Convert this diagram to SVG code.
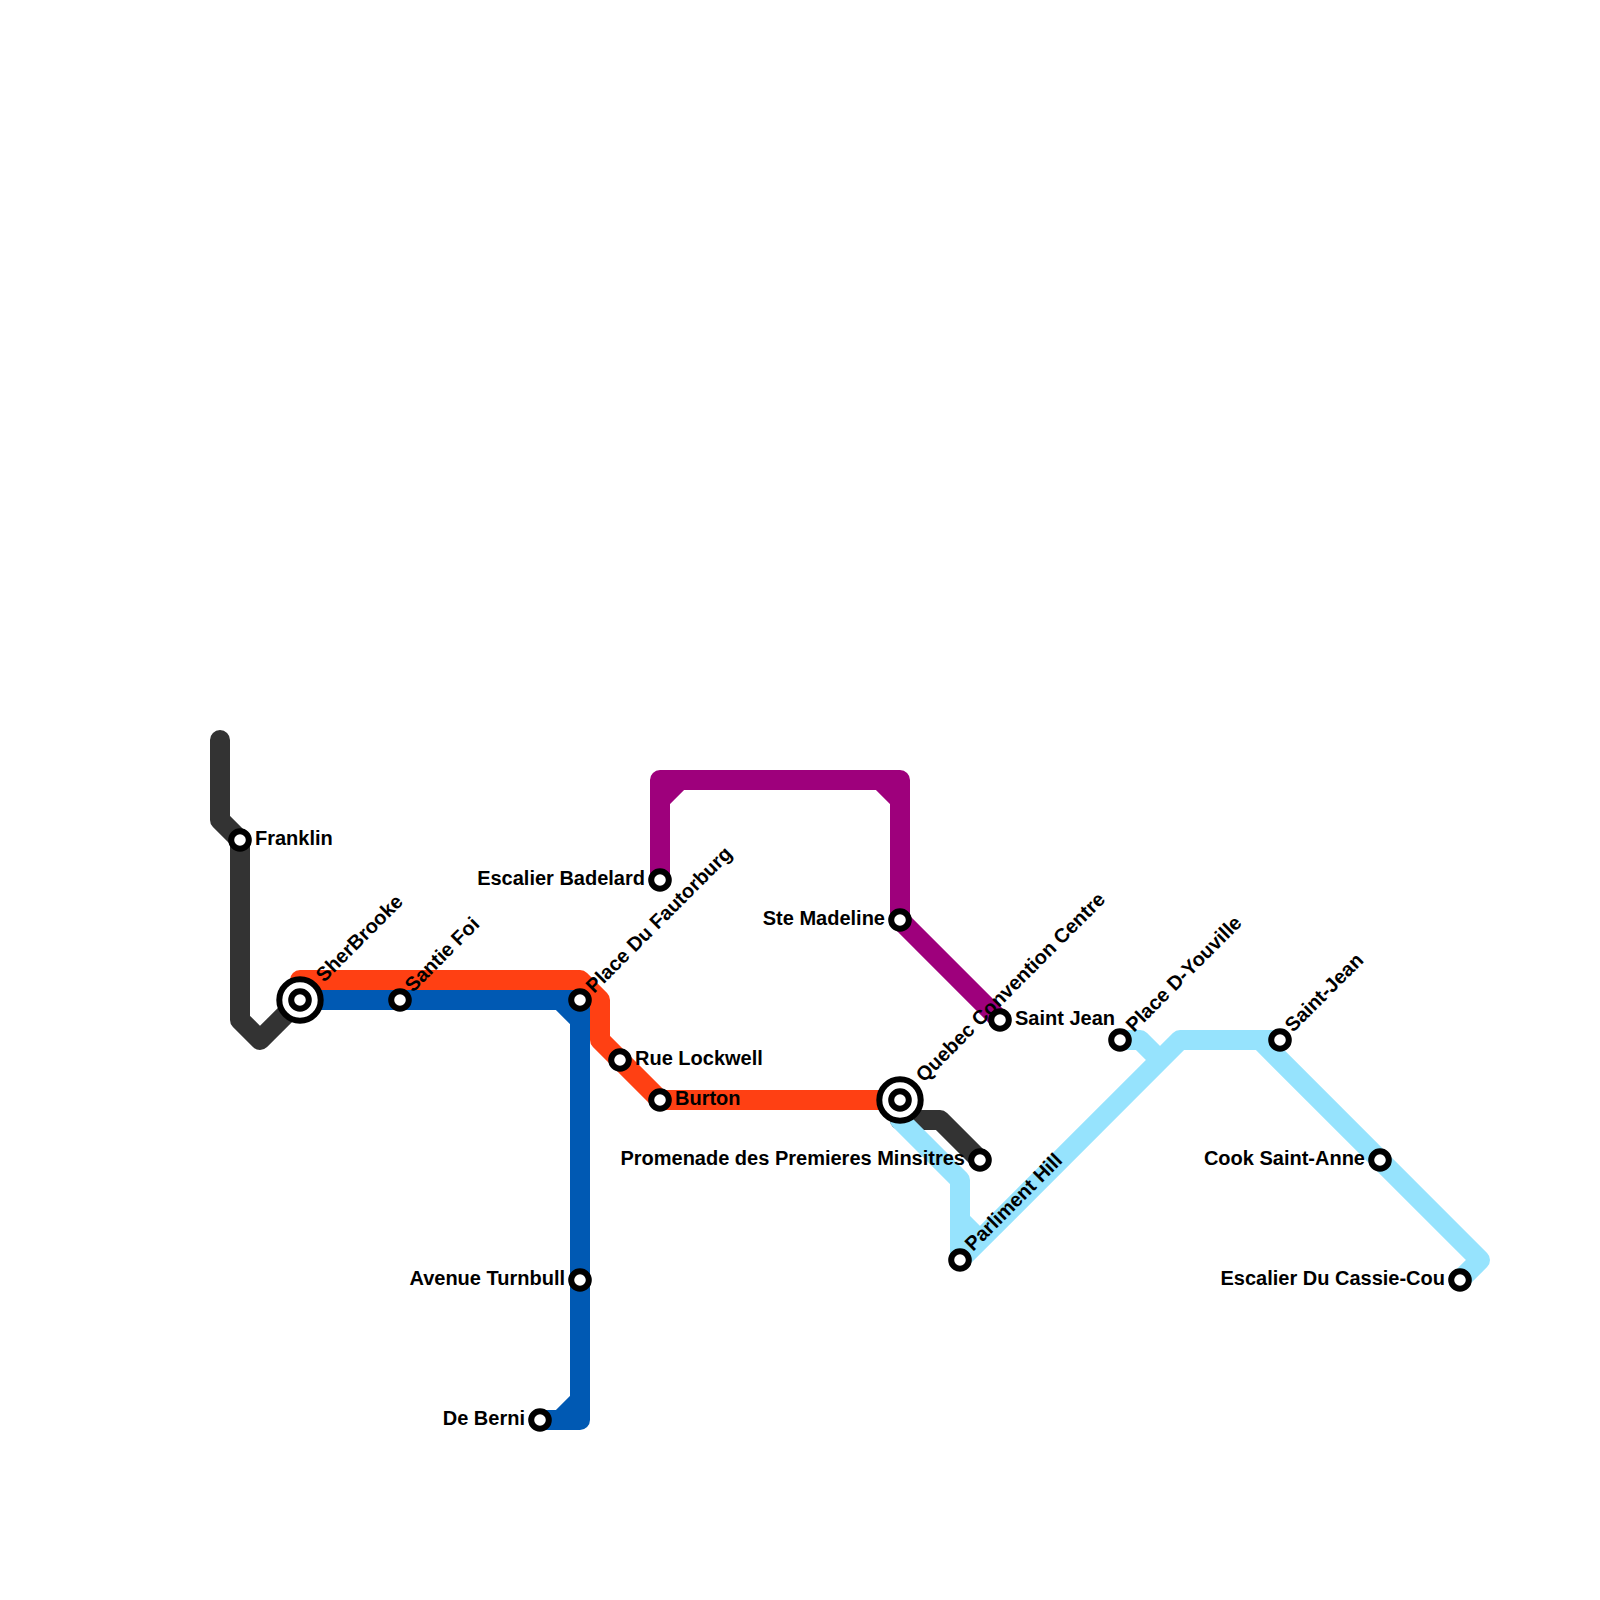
<svg xmlns="http://www.w3.org/2000/svg" width="1600" height="1600" viewBox="0 0 1600 1600">
<style>
.l{fill:none;stroke-width:20;stroke-linejoin:round;stroke-linecap:round}
.b{stroke:#333333}.o{stroke:#ff4013}.u{stroke:#0059b3}.p{stroke:#9e007c}.c{stroke:#96e3fd}
.s{fill:#fff;stroke:#000;stroke-width:6}
.x{fill:#fff;stroke:#000;stroke-width:6}
text{font-family:"Liberation Sans",Arial,sans-serif;font-weight:700;font-size:20px;fill:#000}
.e{text-anchor:end}
</style>
<rect width="1600" height="1600" fill="#fff"/>
<g id="connectors">
<path class="l b" d="M220 740V820L240 840V1020L260 1040L300 1000"/>
<path class="l b" d="M900 1120H940L980 1160"/>
<path class="l o" d="M300 1000V980H580L600 1000V1040L660 1100H900"/>
<path class="l u" d="M300 1000H580V1420H540M560 1000L580 1020M580 1400L560 1420"/>
<path class="l p" d="M660 880V780H900V920L1000 1020M660 800L680 780M880 780L900 800"/>
<path class="l c" d="M900 1120L960 1180V1260L1180 1040H1280M960 1220L980 1240M1120 1040H1140L1160 1060M1260 1040L1480 1260L1460 1280"/>
</g>
<g id="sherbrooke"><circle class="x" cx="300" cy="1000" r="20.7"/><circle class="s" cx="300" cy="1000" r="8.8"/><text transform="translate(324 983) rotate(-45)">SherBrooke</text></g>
<g id="quebec"><circle class="x" cx="900" cy="1100" r="20.7"/><circle class="s" cx="900" cy="1100" r="8.8"/><text transform="translate(924 1083) rotate(-45)">Quebec Convention Centre</text></g>
<g id="franklin"><circle class="s" cx="240" cy="840" r="8.8"/><text x="255" y="845">Franklin</text></g>
<g id="santie"><circle class="s" cx="400" cy="1000" r="8.8"/><text transform="translate(413 993) rotate(-45)">Santie Foi</text></g>
<g id="place-fautorburg"><circle class="s" cx="580" cy="1000" r="8.8"/><text transform="translate(594 994) rotate(-45)">Place Du Fautorburg</text></g>
<g id="lockwell"><circle class="s" cx="620" cy="1060" r="8.8"/><text x="635" y="1065">Rue Lockwell</text></g>
<g id="burton"><circle class="s" cx="660" cy="1100" r="8.8"/><text x="675" y="1105">Burton</text></g>
<g id="badelard"><circle class="s" cx="660" cy="880" r="8.8"/><text class="e" x="645" y="885">Escalier Badelard</text></g>
<g id="madeline"><circle class="s" cx="900" cy="920" r="8.8"/><text class="e" x="885" y="925">Ste Madeline</text></g>
<g id="saint-jean-w"><circle class="s" cx="1000" cy="1020" r="8.8"/><text x="1015" y="1025">Saint Jean</text></g>
<g id="youville"><circle class="s" cx="1120" cy="1040" r="8.8"/><text transform="translate(1134 1033) rotate(-45)">Place D-Youville</text></g>
<g id="saint-jean"><circle class="s" cx="1280" cy="1040" r="8.8"/><text transform="translate(1293 1033) rotate(-45)">Saint-Jean</text></g>
<g id="cook"><circle class="s" cx="1380" cy="1160" r="8.8"/><text class="e" x="1365" y="1165">Cook Saint-Anne</text></g>
<g id="cassie"><circle class="s" cx="1460" cy="1280" r="8.8"/><text class="e" x="1445" y="1285">Escalier Du Cassie-Cou</text></g>
<g id="promenade"><circle class="s" cx="980" cy="1160" r="8.8"/><text class="e" x="965" y="1165">Promenade des Premieres Minsitres</text></g>
<g id="parliment"><circle class="s" cx="960" cy="1260" r="8.8"/><text transform="translate(973 1252) rotate(-45)">Parliment Hill</text></g>
<g id="turnbull"><circle class="s" cx="580" cy="1280" r="8.8"/><text class="e" x="565" y="1285">Avenue Turnbull</text></g>
<g id="berni"><circle class="s" cx="540" cy="1420" r="8.8"/><text class="e" x="525" y="1425">De Berni</text></g>
</svg>
